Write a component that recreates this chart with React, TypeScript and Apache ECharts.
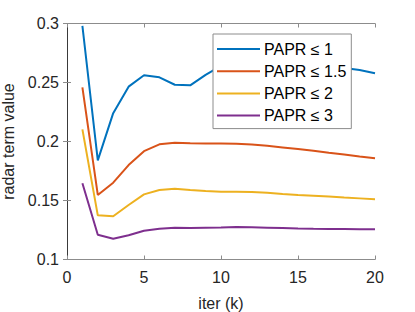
import React, { useEffect, useRef } from "react";
import * as echarts from "echarts";

const iters = [1, 2, 3, 4, 5, 6, 7, 8, 9, 10, 11, 12, 13, 14, 15, 16, 17, 18, 19, 20];
const papr1 = [0.298, 0.184, 0.224, 0.2465, 0.2561, 0.2544, 0.2481, 0.2476, 0.2565, 0.264, 0.2665, 0.267, 0.2668, 0.2662, 0.2655, 0.2645, 0.2635, 0.2622, 0.2606, 0.2578];
const papr15 = [0.2459, 0.1547, 0.1651, 0.18, 0.1918, 0.1976, 0.199, 0.1985, 0.1982, 0.1984, 0.198, 0.1974, 0.1963, 0.195, 0.1937, 0.1922, 0.1905, 0.189, 0.1873, 0.1858];
const papr2 = [0.2103, 0.1374, 0.1366, 0.1462, 0.1552, 0.1589, 0.16, 0.1589, 0.158, 0.1575, 0.1575, 0.1572, 0.1565, 0.1555, 0.1547, 0.154, 0.1533, 0.1525, 0.1518, 0.151];
const papr3 = [0.1646, 0.121, 0.1176, 0.1205, 0.1244, 0.1261, 0.1269, 0.1268, 0.127, 0.1272, 0.1275, 0.1273, 0.127, 0.1266, 0.1262, 0.126, 0.1259, 0.1258, 0.1257, 0.1256];
const seriesNames = ["PAPR ≤ 1", "PAPR ≤ 1.5", "PAPR ≤ 2", "PAPR ≤ 3"];
const seriesColors = ["#0072BD", "#D95319", "#EDB120", "#7E2F8E"];
const seriesData = [papr1, papr15, papr2, papr3];

const FONT = "Liberation Sans, Arial, Helvetica, sans-serif";

export default function App() {
  const ref = useRef<HTMLDivElement>(null);
  useEffect(() => {
    if (!ref.current) return;
    const chart = echarts.init(ref.current, undefined, { renderer: "svg" });
    const axisLine = { show: true, lineStyle: { color: "#8c8c8c", width: 1 } };
    const tick = { show: true, inside: true, length: 4, lineStyle: { color: "#8c8c8c", width: 1 } };
    chart.setOption({
      animation: false,
      backgroundColor: "#ffffff",
      grid: { left: 67, top: 23.5, right: 40, bottom: 52.5, containLabel: false, outerBoundsMode: "none" },
      legend: {
        orient: "vertical",
        left: 213,
        top: 34,
        padding: [5, 5, 3, 4],
        itemGap: 2.2,
        itemWidth: 43,
        itemHeight: 2,
        icon: "rect",
        backgroundColor: "#ffffff",
        borderColor: "#8c8c8c",
        borderWidth: 1,
        borderRadius: 0,
        textStyle: { fontSize: 16, color: "#000", fontFamily: FONT, lineHeight: 20, padding: [0, 0, 0, -1] },
        data: seriesNames,
      },
      xAxis: [
        {
          type: "value",
          min: 0,
          max: 20,
          interval: 5,
          name: "iter (k)",
          nameLocation: "middle",
          nameGap: 36,
          nameTextStyle: { fontSize: 16, color: "#262626", fontFamily: FONT },
          axisLine,
          axisTick: tick,
          splitLine: { show: false },
          axisLabel: { fontSize: 16, color: "#262626", fontFamily: FONT, margin: 10 },
        },
        {
          type: "value",
          position: "top",
          min: 0,
          max: 20,
          interval: 5,
          axisLine,
          axisTick: tick,
          splitLine: { show: false },
          axisLabel: { show: false },
        },
      ],
      yAxis: [
        {
          type: "value",
          min: 0.1,
          max: 0.3,
          interval: 0.05,
          name: "radar term value",
          nameLocation: "middle",
          nameGap: 41,
          nameRotate: 90,
          nameTextStyle: { fontSize: 16, color: "#262626", fontFamily: FONT },
          axisLine,
          axisTick: tick,
          splitLine: { show: false },
          axisLabel: {
            fontSize: 16,
            color: "#262626",
            fontFamily: FONT,
            margin: 8,
            formatter: (v: number) => String(+v.toFixed(2)),
          },
        },
        {
          type: "value",
          position: "right",
          min: 0.1,
          max: 0.3,
          interval: 0.05,
          axisLine: { show: true, lineStyle: { color: "#3a3a3a", width: 1 } },
          axisTick: tick,
          splitLine: { show: false },
          axisLabel: { show: false },
        },
      ],
      series: seriesNames.map((name, i) => ({
        name,
        type: "line",
        data: iters.map((x, j) => [x, seriesData[i][j]]),
        symbol: "none",
        showSymbol: false,
        color: seriesColors[i],
        lineStyle: { color: seriesColors[i], width: 2 },
        xAxisIndex: 0,
        yAxisIndex: 0,
        z: 2,
      })),
    });
    return () => chart.dispose();
  }, []);
  return <div ref={ref} style={{ position: "fixed", left: 0, top: 0, width: 415, height: 312 }} />;
}
